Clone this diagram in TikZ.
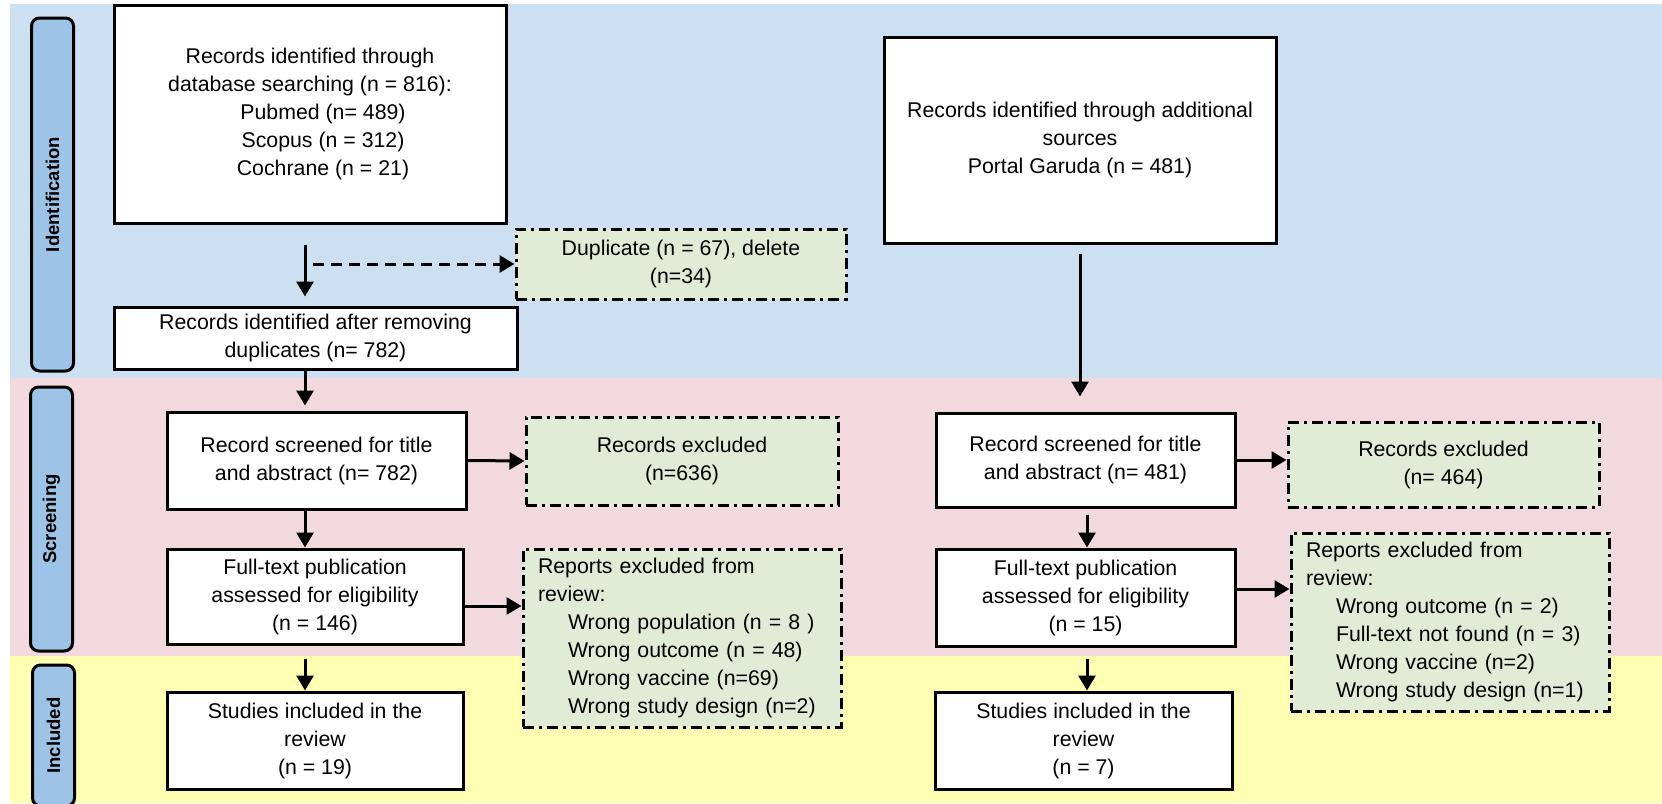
\documentclass[tikz,border=0pt]{standalone}
\usepackage{fontspec}
\setmainfont{Liberation Sans}
\usepackage{tikz}
\usetikzlibrary{arrows.meta,positioning}
\definecolor{bandblue}{RGB}{205,224,241}
\definecolor{bandpink}{RGB}{242,217,222}
\definecolor{bandyellow}{RGB}{255,255,180}
\definecolor{exclgreen}{RGB}{225,236,215}
\definecolor{phaseblue}{RGB}{157,195,230}
\tikzstyle{arrow} = [line width=3pt,-{Triangle[length=15pt,width=17pt]}]
\tikzstyle{dasharrow} = [arrow, dash pattern=on 11pt off 7pt]
\tikzstyle{box} = [draw, line width=3pt, fill=white, align=center, inner sep=0pt, font=\fontsize{21.3}{28}\selectfont]
\tikzstyle{exclbox} = [box, fill=exclgreen, dash pattern=on 11pt off 5pt on 3pt off 5pt]
\tikzstyle{listbox} = [exclbox, align=left, inner xsep=15pt, text width=288pt, minimum height=178pt]
\tikzstyle{phase} = [draw, line width=3pt, fill=phaseblue, rounded corners=8pt, rotate=90, inner sep=0pt, minimum height=42pt, font=\fontsize{18.5}{22}\selectfont\bfseries]

\begin{document}
\begin{tikzpicture}[x=1pt, y=-1pt]
    \useasboundingbox (0,0) rectangle (1662,803);
    \clip (0,0) rectangle (1662,803);

    % Bands
    \fill[bandblue] (10,4) rectangle (1662,378);
    \fill[bandpink] (10,378) rectangle (1662,656);
    \fill[bandyellow] (10,656) rectangle (1662,803);

    % Phase labels
    \node[phase, minimum width=353pt] (ident) at (52.5,194.5) {Identification};
    \node[phase, minimum width=264pt] (screen) at (51.5,519) {Screening};
    \node[phase, minimum width=141pt] (incl) at (53.5,735.5) {Included};

    % Left column
    \node[box, minimum width=392pt, minimum height=218pt] (search) at (310,114)
        {Records identified through\\database searching (n = 816):\\\hspace*{26pt}Pubmed (n= 489)\\\hspace*{26pt}Scopus (n = 312)\\\hspace*{26pt}Cochrane (n = 21)};
    \node[exclbox, minimum width=330pt, minimum height=70pt] (dup) at (681,264)
        {Duplicate (n = 67), delete\\(n=34)};
    \node[box, minimum width=403pt, minimum height=62pt] (dedup) at (315.5,338)
        {Records identified after removing\\duplicates (n= 782)};
    \node[box, minimum width=299pt, minimum height=97pt] (screenL) at (316.5,460.5)
        {Record screened for title\\and abstract (n= 782)};
    \node[exclbox, minimum width=312pt, minimum height=88pt] (exclL) at (682,461)
        {Records excluded\\(n=636)};
    \node[box, minimum width=296pt, minimum height=95pt] (fullL) at (315,596.5)
        {Full-text publication\\assessed for eligibility\\(n = 146)};
    \node[listbox] (repL) at (682,638)
        {Reports excluded from\\review:\\\hspace*{30pt}Wrong population (n = 8 )\\\hspace*{30pt}Wrong outcome (n = 48)\\\hspace*{30pt}Wrong vaccine (n=69)\\\hspace*{30pt}Wrong study design (n=2)};
    \node[box, minimum width=296pt, minimum height=97pt] (studL) at (315,740.5)
        {Studies included in the\\review\\(n = 19)};

    % Right column
    \node[box, minimum width=392pt, minimum height=206pt] (other) at (1080,140)
        {Records identified through additional\\sources\\Portal Garuda (n = 481)};
    \node[box, minimum width=299pt, minimum height=94pt] (screenR) at (1085.5,460)
        {Record screened for title\\and abstract (n= 481)};
    \node[exclbox, minimum width=311pt, minimum height=85pt] (exclR) at (1443.5,464.5)
        {Records excluded\\(n= 464)};
    \node[box, minimum width=299pt, minimum height=97pt] (fullR) at (1085.5,597.5)
        {Full-text publication\\assessed for eligibility\\(n = 15)};
    \node[listbox] (repR) at (1450,622)
        {Reports excluded from\\review:\\\hspace*{30pt}Wrong outcome (n = 2)\\\hspace*{30pt}Full-text not found (n = 3)\\\hspace*{30pt}Wrong vaccine (n=2)\\\hspace*{30pt}Wrong study design (n=1)};
    \node[box, minimum width=297pt, minimum height=97pt] (studR) at (1083.5,740.5)
        {Studies included in the\\review\\(n = 7)};

    % Connectors
    \coordinate (colL) at (305,0);
    \coordinate (colR) at (1087,0);
    \coordinate (dupfrom) at (313,264);
    \coordinate (linkL) at (0,606);
    \coordinate (linkR) at (0,589);
    \draw[arrow, shorten <=20pt, shorten >=9pt] (search.south -| colL) -- (dedup.north -| colL);
    \draw[dasharrow] (dupfrom) -- (dup.west);
    \draw[arrow, shorten >=5pt] (dedup.south -| colL) -- (screenL.north -| colL);
    \draw[arrow] (screenL.east) -- (exclL.west);
    \draw[arrow] (screenL.south -| colL) -- (fullL.north -| colL);
    \draw[arrow] (fullL.east |- linkL) -- (repL.west |- linkL);
    \draw[arrow, shorten <=13pt] (fullL.south -| colL) -- (studL.north -| colL);

    \draw[arrow, shorten <=9pt, shorten >=15pt] (other.south) -- (other.south |- screenR.north);
    \draw[arrow] (screenR.east) -- (exclR.west |- screenR.east);
    \draw[arrow, shorten <=6pt] (screenR.south -| colR) -- (fullR.north -| colR);
    \draw[arrow] (fullR.east |- linkR) -- (repR.west |- linkR);
    \draw[arrow, shorten <=11pt] (fullR.south -| colR) -- (studR.north -| colR);
\end{tikzpicture}
\end{document}
